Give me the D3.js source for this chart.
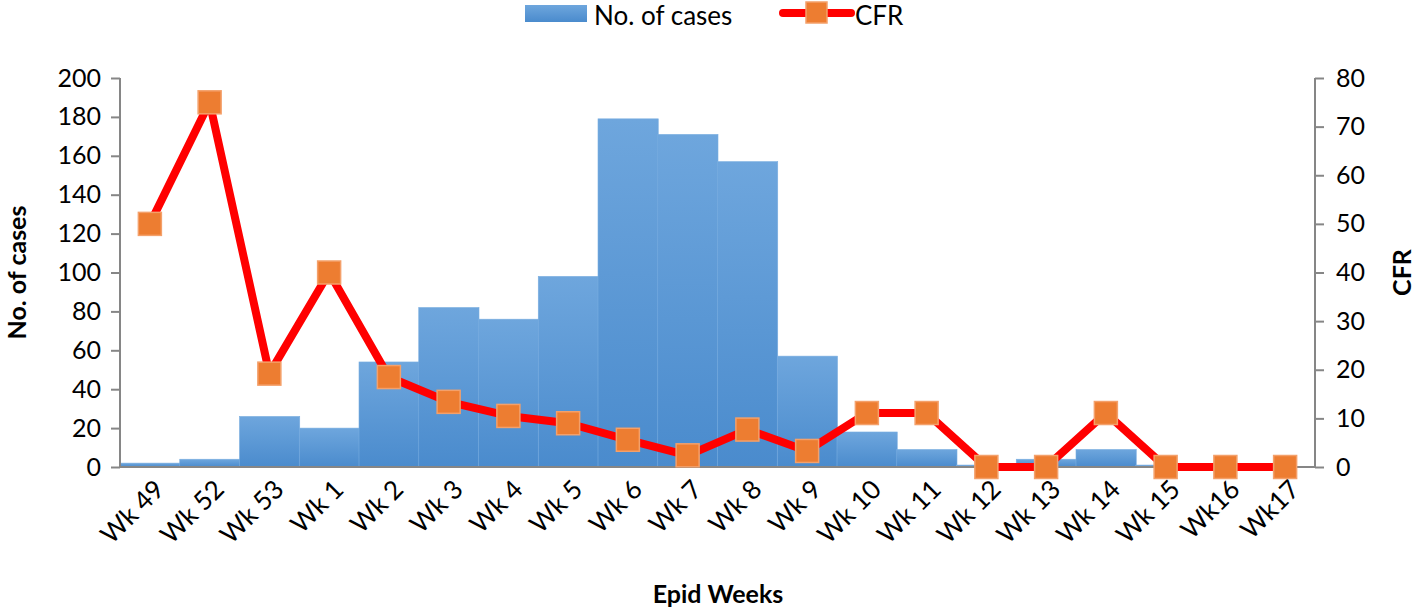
<!DOCTYPE html>
<html>
<head>
<meta charset="utf-8">
<script src="https://cdn.jsdelivr.net/npm/d3@7"></script>
<style>
body { margin: 0; background: #fff; }
svg { font-family: Lato, "Open Sans", sans-serif; }
</style>
</head>
<body>
<script>
var weeks = ["Wk 49", "Wk 52", "Wk 53", "Wk 1", "Wk 2", "Wk 3", "Wk 4", "Wk 5", "Wk 6", "Wk 7",
    "Wk 8", "Wk 9", "Wk 10", "Wk 11", "Wk 12", "Wk 13", "Wk 14", "Wk 15", "Wk16", "Wk17"];
var cases = [2, 4, 26, 20, 54, 82, 76, 98, 179, 171, 157, 57, 18, 9, 1, 4, 9, 1, 0, 0];
var cfr = [50, 75, 19.2, 40, 18.5, 13.4, 10.5, 9, 5.6, 2.4, 7.7, 3.3, 11.1, 11.1, 0, 0, 11.1, 0, 0, 0];
var leftTicks = [0, 20, 40, 60, 80, 100, 120, 140, 160, 180, 200];
var rightTicks = [0, 10, 20, 30, 40, 50, 60, 70, 80];

var W = 1418, H = 611;
var mLeft = 120, mRight = 1315, mTop = 78, mBottom = 467;
var axisColor = "#868686";

var svg = d3.select("body").append("svg").attr("width", W).attr("height", H);

var grad = svg.append("defs").append("linearGradient")
    .attr("id", "barGrad").attr("x1", 0).attr("y1", 0).attr("x2", 0).attr("y2", 1);
grad.append("stop").attr("offset", "0%").attr("stop-color", "#6ea6dd");
grad.append("stop").attr("offset", "100%").attr("stop-color", "#4a8bcd");

var x = d3.scaleBand().domain(weeks).range([mLeft, mRight]).padding(0);
var y = d3.scaleLinear().domain([0, 200]).range([mBottom, mTop]);
var y2 = d3.scaleLinear().domain([0, 80]).range([mBottom, mTop]);

// bars
svg.append("g").selectAll("rect")
    .data(weeks)
    .enter()
    .append("rect")
    .attr("x", function(d) { return x(d); })
    .attr("y", function(d, i) { return y(cases[i]); })
    .attr("width", x.bandwidth() + 0.5)
    .attr("height", function(d, i) { return mBottom - y(cases[i]); })
    .attr("fill", "url(#barGrad)")
    .attr("stroke", "#7aaee0")
    .attr("stroke-width", 0.6);

// axes
var gl = svg.append("g").attr("transform", "translate(" + mLeft + ",0)")
    .call(d3.axisLeft(y).tickValues(leftTicks).tickSize(9).tickPadding(10));
var gr = svg.append("g").attr("transform", "translate(" + mRight + ",0)")
    .call(d3.axisRight(y2).tickValues(rightTicks).tickSize(9).tickPadding(12));
var gb = svg.append("g").attr("transform", "translate(0," + mBottom + ")")
    .call(d3.axisBottom(x).tickSize(0).tickPadding(0));

[gl, gr, gb].forEach(function(g) {
    g.select(".domain").attr("stroke", axisColor).attr("stroke-width", 2);
    g.selectAll(".tick line").attr("stroke", axisColor).attr("stroke-width", 2);
    g.selectAll("text").attr("fill", "#000").style("font-size", "25px").style("font-family", "Lato, sans-serif");
});
gl.select(".domain").attr("d", "M0," + mTop + "V" + mBottom);
gr.select(".domain").attr("d", "M0," + mTop + "V" + mBottom);
gb.select(".domain").attr("d", "M" + mLeft + ",0H" + mRight);

gb.selectAll("text")
    .attr("text-anchor", "end")
    .attr("dy", "0")
    .attr("y", 0)
    .style("font-size", "26px")
    .attr("transform", "translate(16,24) rotate(-45)");

// CFR line
var line = d3.line()
    .x(function(d, i) { return x(weeks[i]) + x.bandwidth() / 2; })
    .y(function(d) { return y2(d); });
svg.append("path").datum(cfr)
    .attr("d", line)
    .attr("fill", "none")
    .attr("stroke", "#ff0000")
    .attr("stroke-width", 8)
    .attr("stroke-linejoin", "round");

var ms = 23;
svg.append("g").selectAll("rect")
    .data(cfr)
    .enter()
    .append("rect")
    .attr("x", function(d, i) { return x(weeks[i]) + x.bandwidth() / 2 - ms / 2; })
    .attr("y", function(d) { return y2(d) - ms / 2; })
    .attr("width", ms).attr("height", ms)
    .attr("fill", "#ed7d31")
    .attr("stroke", "#f4a06a")
    .attr("stroke-width", 1.5);

// axis titles
svg.append("text")
    .attr("transform", "translate(26," + ((mTop + mBottom) / 2) + ") rotate(-90)")
    .attr("text-anchor", "middle")
    .style("font-size", "25px").style("font-weight", "bold")
    .text("No. of cases");
svg.append("text")
    .attr("transform", "translate(1411," + ((mTop + mBottom) / 2) + ") rotate(-90)")
    .attr("text-anchor", "middle")
    .style("font-size", "25px").style("font-weight", "bold")
    .text("CFR");
svg.append("text")
    .attr("x", 718).attr("y", 603)
    .attr("text-anchor", "middle")
    .style("font-size", "25px").style("font-weight", "bold")
    .text("Epid Weeks");

// legend
var lg = svg.append("g");
lg.append("rect").attr("x", 525).attr("y", 5).attr("width", 62).attr("height", 17).attr("fill", "url(#barGrad)");
lg.append("text").attr("x", 594).attr("y", 25).style("font-size", "26px").text("No. of cases");
lg.append("line").attr("x1", 783).attr("x2", 851).attr("y1", 13).attr("y2", 13)
    .attr("stroke", "#ff0000").attr("stroke-width", 8).attr("stroke-linecap", "round");
lg.append("rect").attr("x", 806).attr("y", 2).attr("width", ms - 2).attr("height", ms - 2)
    .attr("fill", "#ed7d31").attr("stroke", "#f4a06a").attr("stroke-width", 1.5);
lg.append("text").attr("x", 855).attr("y", 25).style("font-size", "26px").text("CFR");
</script>
</body>
</html>
